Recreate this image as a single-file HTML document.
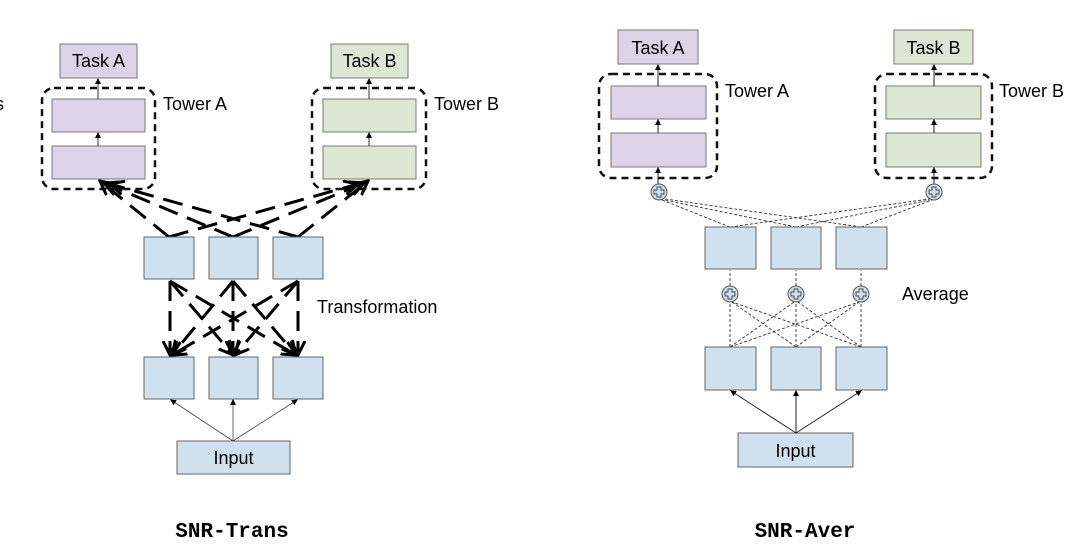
<!DOCTYPE html>
<html><head><meta charset="utf-8"><style>
html,body{margin:0;padding:0;background:#fff;}
svg{display:block;font-family:"Liberation Sans",sans-serif;}
</style></head><body>
<svg width="1080" height="559" viewBox="0 0 1080 559" xmlns="http://www.w3.org/2000/svg">
<defs>
<marker id="big" markerWidth="16" markerHeight="16" refX="14" refY="8" orient="auto" markerUnits="userSpaceOnUse"><path d="M0,1 L14,8 L0,15" fill="none" stroke="#000" stroke-width="3"/></marker>
<marker id="sm" markerWidth="6" markerHeight="6" refX="5" refY="3" orient="auto" markerUnits="userSpaceOnUse"><path d="M0,0 L6,3 L0,6 z" fill="#000"/></marker>
</defs>
<rect width="1080" height="559" fill="#fff"/>
<text x="-5" y="110" font-size="18">s</text>

<!-- LEFT -->
<rect x="60" y="44" width="77" height="34" fill="#dcd3e8" stroke="#777"/>
<text x="98.5" y="67" font-size="18" text-anchor="middle">Task A</text>
<rect x="331" y="44" width="77" height="34" fill="#dce8d4" stroke="#777"/>
<text x="369.5" y="67" font-size="18" text-anchor="middle">Task B</text>
<rect x="42" y="88" width="113" height="101" rx="12" fill="none" stroke="#111" stroke-width="2.5" stroke-dasharray="7,5"/>
<rect x="312" y="88" width="114" height="101" rx="12" fill="none" stroke="#111" stroke-width="2.5" stroke-dasharray="7,5"/>
<rect x="52" y="99" width="93" height="33" fill="#dcd3e8" stroke="#777"/>
<rect x="52" y="146" width="93" height="33" fill="#dcd3e8" stroke="#777"/>
<rect x="323" y="99" width="93" height="33" fill="#dce8d4" stroke="#777"/>
<rect x="323" y="146" width="93" height="33" fill="#dce8d4" stroke="#777"/>
<line x1="98" y1="99" x2="98" y2="79" stroke="#333" marker-end="url(#sm)"/>
<line x1="98" y1="146" x2="98" y2="133" stroke="#333" marker-end="url(#sm)"/>
<line x1="369" y1="99" x2="369" y2="79" stroke="#333" marker-end="url(#sm)"/>
<line x1="369" y1="146" x2="369" y2="133" stroke="#333" marker-end="url(#sm)"/>
<text x="163" y="110" font-size="18">Tower A</text>
<text x="434" y="110" font-size="18">Tower B</text>
<g stroke="#000" stroke-width="3" stroke-dasharray="20,10" fill="none">
<line x1="169" y1="237" x2="100" y2="181" marker-end="url(#big)"/>
<line x1="233" y1="237" x2="104" y2="183" marker-end="url(#big)"/>
<line x1="298" y1="237" x2="110" y2="184" marker-end="url(#big)"/>
<line x1="169" y1="237" x2="358" y2="184" marker-end="url(#big)"/>
<line x1="233" y1="237" x2="364" y2="183" marker-end="url(#big)"/>
<line x1="298" y1="237" x2="368" y2="181" marker-end="url(#big)"/>
<line x1="170" y1="281" x2="170" y2="355" marker-end="url(#big)"/>
<line x1="170" y1="281" x2="233" y2="355" marker-end="url(#big)"/>
<line x1="170" y1="281" x2="296" y2="355" marker-end="url(#big)"/>
<line x1="233" y1="281" x2="172" y2="355" marker-end="url(#big)"/>
<line x1="233" y1="281" x2="233" y2="355" marker-end="url(#big)"/>
<line x1="233" y1="281" x2="296" y2="355" marker-end="url(#big)"/>
<line x1="298" y1="281" x2="172" y2="355" marker-end="url(#big)"/>
<line x1="298" y1="281" x2="235" y2="355" marker-end="url(#big)"/>
<line x1="298" y1="281" x2="298" y2="355" marker-end="url(#big)"/>
</g>
<g fill="#cfe0ee" stroke="#666">
<rect x="144" y="237" width="50" height="42"/>
<rect x="209" y="237" width="49" height="42"/>
<rect x="273" y="237" width="50" height="42"/>
<rect x="144" y="357" width="50" height="42"/>
<rect x="209" y="357" width="49" height="42"/>
<rect x="273" y="357" width="50" height="42"/>
<rect x="177" y="441" width="113" height="33"/>
</g>
<text x="233.5" y="464" font-size="18" text-anchor="middle">Input</text>
<text x="317" y="313" font-size="18">Transformation</text>
<g stroke="#444" stroke-width="0.8">
<line x1="233" y1="441" x2="171" y2="400" marker-end="url(#sm)"/>
<line x1="233" y1="441" x2="233" y2="400" marker-end="url(#sm)"/>
<line x1="233" y1="441" x2="297" y2="400" marker-end="url(#sm)"/>
</g>
<text x="232" y="537" font-size="21" font-family="Liberation Mono, monospace" font-weight="bold" text-anchor="middle">SNR-Trans</text>

<!-- RIGHT -->
<rect x="618" y="30" width="80" height="34" fill="#dcd3e8" stroke="#777"/>
<text x="658" y="54" font-size="18" text-anchor="middle">Task A</text>
<rect x="894" y="30" width="79" height="34" fill="#dce8d4" stroke="#777"/>
<text x="933.5" y="54" font-size="18" text-anchor="middle">Task B</text>
<rect x="599" y="74" width="118" height="104" rx="12" fill="none" stroke="#111" stroke-width="2.5" stroke-dasharray="7,5"/>
<rect x="875" y="74" width="117" height="104" rx="12" fill="none" stroke="#111" stroke-width="2.5" stroke-dasharray="7,5"/>
<rect x="611" y="86" width="95" height="33" fill="#dcd3e8" stroke="#777"/>
<rect x="611" y="133" width="95" height="34" fill="#dcd3e8" stroke="#777"/>
<rect x="886" y="86" width="95" height="33" fill="#dce8d4" stroke="#777"/>
<rect x="886" y="133" width="95" height="34" fill="#dce8d4" stroke="#777"/>
<g stroke="#222" stroke-width="1">
<line x1="658" y1="86" x2="658" y2="65" marker-end="url(#sm)"/>
<line x1="658" y1="133" x2="658" y2="120" marker-end="url(#sm)"/>
<line x1="658" y1="184" x2="658" y2="168" marker-end="url(#sm)"/>
<line x1="934" y1="86" x2="934" y2="65" marker-end="url(#sm)"/>
<line x1="934" y1="133" x2="934" y2="120" marker-end="url(#sm)"/>
<line x1="934" y1="184" x2="934" y2="168" marker-end="url(#sm)"/>
</g>
<text x="725" y="97" font-size="18">Tower A</text>
<text x="999" y="97" font-size="18">Tower B</text>
<g stroke="#333" stroke-width="0.9" stroke-dasharray="3,2" fill="none">
<line x1="730" y1="227" x2="662" y2="200"/>
<line x1="796" y1="227" x2="664" y2="200"/>
<line x1="861" y1="227" x2="665" y2="199"/>
<line x1="730" y1="227" x2="929" y2="199"/>
<line x1="796" y1="227" x2="930" y2="200"/>
<line x1="861" y1="227" x2="932" y2="200"/>
<line x1="730" y1="347" x2="730" y2="302"/>
<line x1="730" y1="347" x2="794" y2="302"/>
<line x1="730" y1="347" x2="859" y2="302"/>
<line x1="796" y1="347" x2="732" y2="302"/>
<line x1="796" y1="347" x2="796" y2="302"/>
<line x1="796" y1="347" x2="859" y2="302"/>
<line x1="861" y1="347" x2="732" y2="302"/>
<line x1="861" y1="347" x2="798" y2="302"/>
<line x1="861" y1="347" x2="861" y2="302"/>
<line x1="730" y1="286" x2="730" y2="270"/>
<line x1="796" y1="286" x2="796" y2="270"/>
<line x1="861" y1="286" x2="861" y2="270"/>
</g>
<g fill="#cfe0ee" stroke="#555">
<circle cx="659" cy="192" r="8"/><circle cx="934" cy="192" r="8"/>
<circle cx="730" cy="294" r="8"/><circle cx="796" cy="294" r="8"/><circle cx="861" cy="294" r="8"/>
</g>
<g fill="none" stroke="#444" stroke-width="0.9">
<path d="M657,187h4v3h3v4h-3v3h-4v-3h-3v-4h3z"/>
<path d="M932,187h4v3h3v4h-3v3h-4v-3h-3v-4h3z"/>
<path d="M728,289h4v3h3v4h-3v3h-4v-3h-3v-4h3z"/>
<path d="M794,289h4v3h3v4h-3v3h-4v-3h-3v-4h3z"/>
<path d="M859,289h4v3h3v4h-3v3h-4v-3h-3v-4h3z"/>
</g>
<g fill="#cfe0ee" stroke="#666">
<rect x="705" y="227" width="51" height="42"/>
<rect x="771" y="227" width="50" height="42"/>
<rect x="836" y="227" width="51" height="42"/>
<rect x="705" y="347" width="51" height="43"/>
<rect x="771" y="347" width="50" height="43"/>
<rect x="836" y="347" width="51" height="43"/>
<rect x="738" y="433" width="115" height="34"/>
</g>
<text x="795.5" y="457" font-size="18" text-anchor="middle">Input</text>
<text x="902" y="300" font-size="18">Average</text>
<g stroke="#222" stroke-width="1">
<line x1="796" y1="433" x2="731" y2="391" marker-end="url(#sm)"/>
<line x1="796" y1="433" x2="796" y2="391" marker-end="url(#sm)"/>
<line x1="796" y1="433" x2="861" y2="391" marker-end="url(#sm)"/>
</g>
<text x="805" y="537" font-size="21" font-family="Liberation Mono, monospace" font-weight="bold" text-anchor="middle">SNR-Aver</text>
</svg>
</body></html>
